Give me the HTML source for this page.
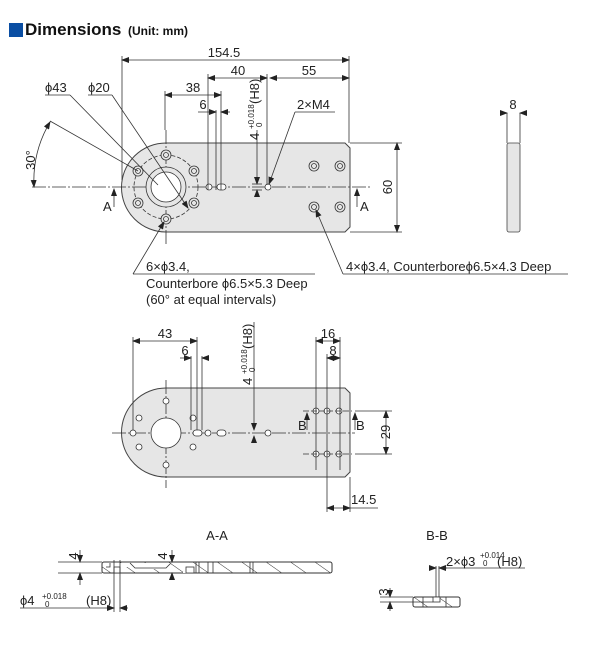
<!DOCTYPE html>
<html><head><meta charset="utf-8"><style>
body{margin:0;background:#fff;width:605px;height:657px;overflow:hidden}
svg{display:block}
text{font-family:"Liberation Sans",sans-serif;fill:#222}
.t{font-size:13px}
.s{font-size:8px}
</style></head><body>
<svg width="605" height="657" viewBox="0 0 605 657" xmlns="http://www.w3.org/2000/svg">
<defs>
<marker id="a" markerWidth="8" markerHeight="6" refX="7" refY="3" orient="auto-start-reverse" markerUnits="userSpaceOnUse"><path d="M0,0L8,3L0,6z" fill="#222"/></marker>
<pattern id="h" width="14" height="14" patternUnits="userSpaceOnUse" patternTransform="rotate(-55)"><line x1="0" y1="0" x2="0" y2="14" stroke="#333" stroke-width="1"/></pattern>
</defs>
<rect x="9" y="23" width="14" height="14" fill="#0a4ea3"/>
<text x="25" y="35" style="font-size:17px;font-weight:bold;fill:#111">Dimensions</text>
<text x="128" y="35" style="font-size:12px;font-weight:bold;fill:#111">(Unit: mm)</text>

<g stroke="#333" stroke-width="0.8" fill="none">
<!-- TOP VIEW plate -->
<path d="M166,143 H345 L350,148 V227 L345,232 H166 A44,44 0 0 1 166,143 Z" fill="#e6e6e6" stroke="#444" stroke-width="1"/>
<line x1="32" y1="187" x2="370" y2="187" stroke-dasharray="14,2,2,2"/>
<line x1="166" y1="130" x2="166" y2="245" stroke-dasharray="14,2,2,2"/>
<circle cx="166" cy="187" r="32" stroke-dasharray="4,2"/>
<circle cx="166" cy="187" r="20" fill="#e6e6e6"/>
<circle cx="166" cy="187" r="15" fill="#fff"/>
<g fill="#e6e6e6">
<circle cx="166" cy="155" r="5"/><circle cx="166" cy="155" r="2.5"/>
<circle cx="194" cy="171" r="5"/><circle cx="194" cy="171" r="2.5"/>
<circle cx="194" cy="203" r="5"/><circle cx="194" cy="203" r="2.5"/>
<circle cx="166" cy="219" r="5"/><circle cx="166" cy="219" r="2.5"/>
<circle cx="138" cy="203" r="5"/><circle cx="138" cy="203" r="2.5"/>
<circle cx="138" cy="171" r="5"/><circle cx="138" cy="171" r="2.5"/>
<circle cx="314" cy="166" r="5"/><circle cx="314" cy="166" r="2.5"/>
<circle cx="340" cy="166" r="5"/><circle cx="340" cy="166" r="2.5"/>
<circle cx="314" cy="207" r="5"/><circle cx="314" cy="207" r="2.5"/>
<circle cx="340" cy="207" r="5"/><circle cx="340" cy="207" r="2.5"/>
</g>
<circle cx="209" cy="187" r="3" fill="#fff"/>
<rect x="217" y="184" width="9" height="6" rx="3" fill="#fff"/>
<circle cx="268" cy="187" r="3" fill="#fff"/>
<!-- dimension lines top -->
<line x1="122" y1="56" x2="122" y2="180"/>
<line x1="349" y1="56" x2="349" y2="143"/>
<line x1="122" y1="60" x2="349" y2="60" marker-start="url(#a)" marker-end="url(#a)"/>
<line x1="208" y1="74" x2="208" y2="190"/>
<line x1="267" y1="74" x2="267" y2="185"/>
<line x1="208" y1="78" x2="267" y2="78" marker-start="url(#a)" marker-end="url(#a)"/>
<line x1="270" y1="78" x2="349" y2="78" marker-start="url(#a)" marker-end="url(#a)"/>
<line x1="165" y1="91" x2="165" y2="130"/>
<line x1="221" y1="91" x2="221" y2="190"/>
<line x1="165" y1="95" x2="221" y2="95" marker-start="url(#a)" marker-end="url(#a)"/>
<line x1="216" y1="110" x2="216" y2="190"/>
<line x1="198" y1="112" x2="216" y2="112" marker-end="url(#a)"/>
<line x1="221" y1="112" x2="230" y2="112" marker-start="url(#a)"/>
<line x1="257" y1="130" x2="257" y2="184" marker-end="url(#a)"/>
<line x1="257" y1="197" x2="257" y2="190" marker-end="url(#a)"/>
<line x1="252" y1="184" x2="262" y2="184"/><line x1="252" y1="190" x2="262" y2="190"/>
<!-- leaders -->
<line x1="45" y1="95" x2="70" y2="95"/>
<line x1="70" y1="95" x2="158" y2="185"/>
<line x1="88" y1="95" x2="112" y2="95"/>
<line x1="112" y1="95" x2="188" y2="208" marker-end="url(#a)"/>
<line x1="295" y1="112" x2="335" y2="112"/>
<line x1="295" y1="112" x2="269" y2="184" marker-end="url(#a)"/>
<path d="M50,122 A116,116 0 0 0 34,187" marker-start="url(#a)" marker-end="url(#a)"/>
<line x1="50" y1="121" x2="138" y2="171"/>
<line x1="133" y1="274" x2="315" y2="274"/>
<line x1="133" y1="274" x2="164" y2="222" marker-end="url(#a)"/>
<line x1="343" y1="274" x2="568" y2="274"/>
<line x1="343" y1="274" x2="316" y2="210" marker-end="url(#a)"/>
<!-- A marks -->
<line x1="114" y1="207" x2="114" y2="189" marker-end="url(#a)"/>
<line x1="357" y1="207" x2="357" y2="189" marker-end="url(#a)"/>
<!-- 60 -->
<line x1="350" y1="143" x2="402" y2="143"/>
<line x1="350" y1="232" x2="402" y2="232"/>
<line x1="397" y1="143" x2="397" y2="232" marker-start="url(#a)" marker-end="url(#a)"/>
<!-- side view -->
<rect x="507" y="143" width="13" height="89" rx="2" fill="#e6e6e6" stroke="#444"/>
<line x1="507" y1="113" x2="507" y2="143"/><line x1="520" y1="113" x2="520" y2="143"/>
<line x1="500" y1="113" x2="507" y2="113" marker-end="url(#a)"/>
<line x1="527" y1="113" x2="520" y2="113" marker-end="url(#a)"/>

<!-- MIDDLE VIEW -->
<path d="M166,388 H345 L350,393 V472 L345,477 H166 A44.5,44.5 0 0 1 166,388 Z" fill="#e6e6e6" stroke="#444" stroke-width="1"/>
<line x1="112" y1="433" x2="355" y2="433" stroke-dasharray="14,2,2,2"/>
<line x1="166" y1="380" x2="166" y2="488" stroke-dasharray="14,2,2,2"/>
<circle cx="166" cy="433" r="15" fill="#fff"/>
<g fill="#fff">
<circle cx="166" cy="401" r="3"/><circle cx="166" cy="465" r="3"/>
<circle cx="139" cy="418" r="3"/><circle cx="139" cy="447" r="3"/>
<circle cx="133" cy="433" r="3"/>
<circle cx="193" cy="418" r="3"/><circle cx="193" cy="447" r="3"/>
<rect x="193" y="430" width="9" height="6" rx="3"/>
<circle cx="208" cy="433" r="3"/>
<rect x="217" y="430" width="9" height="6" rx="3"/>
<circle cx="268" cy="433" r="3"/>
<circle cx="316" cy="411" r="3"/><circle cx="327" cy="411" r="3"/><circle cx="339" cy="411" r="3"/>
<circle cx="316" cy="454" r="3"/><circle cx="327" cy="454" r="3"/><circle cx="339" cy="454" r="3"/>
</g>
<line x1="303" y1="411" x2="352" y2="411" stroke-dasharray="6,2"/>
<line x1="303" y1="454" x2="352" y2="454" stroke-dasharray="6,2"/>
<line x1="133" y1="337" x2="133" y2="430"/>
<line x1="197" y1="337" x2="197" y2="430"/>
<line x1="133" y1="341" x2="197" y2="341" marker-start="url(#a)" marker-end="url(#a)"/>
<line x1="191" y1="356" x2="191" y2="430"/>
<line x1="202" y1="356" x2="202" y2="430"/>
<line x1="180" y1="358" x2="191" y2="358" marker-end="url(#a)"/>
<line x1="209" y1="358" x2="202" y2="358" marker-end="url(#a)"/>
<line x1="254" y1="322" x2="254" y2="430" marker-end="url(#a)"/>
<line x1="254" y1="442" x2="254" y2="436" marker-end="url(#a)"/>
<line x1="316" y1="337" x2="316" y2="470"/>
<line x1="340" y1="337" x2="340" y2="470"/>
<line x1="327" y1="354" x2="327" y2="512"/>
<line x1="316" y1="341" x2="340" y2="341" marker-start="url(#a)" marker-end="url(#a)"/>
<line x1="327" y1="358" x2="340" y2="358" marker-start="url(#a)" marker-end="url(#a)"/>
<line x1="350" y1="477" x2="350" y2="512"/>
<line x1="327" y1="508" x2="350" y2="508" marker-start="url(#a)" marker-end="url(#a)"/>
<line x1="350" y1="508" x2="378" y2="508"/>
<line x1="355" y1="411" x2="392" y2="411"/>
<line x1="355" y1="454" x2="392" y2="454"/>
<line x1="386" y1="411" x2="386" y2="454" marker-start="url(#a)" marker-end="url(#a)"/>
<line x1="307" y1="430" x2="307" y2="413" marker-end="url(#a)"/>
<line x1="355" y1="430" x2="355" y2="413" marker-end="url(#a)"/>

<!-- SECTION A-A -->
<rect x="102" y="562" width="230" height="11" rx="2" fill="url(#h)" stroke="#333" stroke-width="1"/>
<path d="M106,563 H130 L135,568 H166 L171,563 H183" fill="#fff" stroke="none"/>
<rect x="135" y="563" width="36" height="6" fill="#fff" stroke="none"/>
<rect x="110" y="563" width="20" height="4" fill="#fff" stroke="none"/>
<path d="M110,563 L110,567 L106,567"/>
<path d="M130,563 L135,568 H166 L171,563"/>
<rect x="114" y="567" width="6" height="6" fill="#fff"/>
<rect x="183" y="563" width="8" height="10" fill="#fff" stroke="none"/>
<rect x="186" y="567" width="8" height="6" fill="#fff"/>
<line x1="196" y1="562" x2="196" y2="573"/><line x1="199" y1="562" x2="199" y2="573"/>
<line x1="208" y1="562" x2="208" y2="573"/><line x1="213" y1="562" x2="213" y2="573"/>
<line x1="250" y1="562" x2="250" y2="573"/><line x1="253" y1="562" x2="253" y2="573"/>
<line x1="58" y1="562" x2="102" y2="562"/><line x1="58" y1="573" x2="102" y2="573"/>
<line x1="80" y1="550" x2="80" y2="562" marker-end="url(#a)"/>
<line x1="80" y1="585" x2="80" y2="573" marker-end="url(#a)"/>
<line x1="172" y1="550" x2="172" y2="562" marker-end="url(#a)"/>
<line x1="172" y1="580" x2="172" y2="573" marker-end="url(#a)"/>
<line x1="114" y1="560" x2="114" y2="612"/><line x1="120" y1="560" x2="120" y2="612"/>
<line x1="20" y1="608" x2="114" y2="608" marker-end="url(#a)"/>
<line x1="128" y1="608" x2="120" y2="608" marker-end="url(#a)"/>
<!-- SECTION B-B -->
<rect x="413" y="597" width="47" height="10" rx="2" fill="url(#h)" stroke="#333" stroke-width="1"/>
<rect x="433" y="597" width="7" height="5" fill="#fff"/>
<line x1="423" y1="597" x2="423" y2="607"/><line x1="446" y1="597" x2="446" y2="607"/>
<line x1="436" y1="566" x2="436" y2="597"/><line x1="439" y1="566" x2="439" y2="597"/>
<line x1="430" y1="568" x2="436" y2="568" marker-end="url(#a)"/>
<line x1="447" y1="568" x2="439" y2="568" marker-end="url(#a)"/>
<line x1="439" y1="568" x2="525" y2="568"/>
<line x1="380" y1="597" x2="413" y2="597"/><line x1="380" y1="602" x2="433" y2="602"/>
<line x1="390" y1="588" x2="390" y2="597" marker-end="url(#a)"/>
<line x1="390" y1="611" x2="390" y2="602" marker-end="url(#a)"/>
</g>

<g class="t">
<text x="224" y="57" text-anchor="middle">154.5</text>
<text x="238" y="75" text-anchor="middle">40</text>
<text x="309" y="75" text-anchor="middle">55</text>
<text x="193" y="92" text-anchor="middle">38</text>
<text x="203" y="109" text-anchor="middle">6</text>
<text x="45" y="92">ϕ43</text>
<text x="88" y="92">ϕ20</text>
<text x="297" y="109">2×M4</text>
<text x="103" y="211">A</text>
<text x="360" y="211">A</text>
<text x="513" y="109" text-anchor="middle">8</text>
<text x="146" y="271">6×ϕ3.4,</text>
<text x="146" y="288">Counterbore ϕ6.5×5.3 Deep</text>
<text x="146" y="304">(60° at equal intervals)</text>
<text x="346" y="271">4×ϕ3.4, Counterboreϕ6.5×4.3 Deep</text>
<text x="165" y="338" text-anchor="middle">43</text>
<text x="185" y="355" text-anchor="middle">6</text>
<text x="328" y="338" text-anchor="middle">16</text>
<text x="333" y="355" text-anchor="middle">8</text>
<text x="298" y="430">B</text>
<text x="356" y="430">B</text>
<text x="351" y="504">14.5</text>
<text x="217" y="540" text-anchor="middle">A-A</text>
<text x="437" y="540" text-anchor="middle">B-B</text>
<text x="20" y="605">ϕ4</text>
<text x="86" y="605">(H8)</text>
<text x="446" y="566">2×ϕ3</text>
<text x="497" y="566">(H8)</text>
</g>
<g class="s">
<text x="42" y="599">+0.018</text><text x="45" y="607">0</text>
<text x="480" y="558">+0.014</text><text x="483" y="566">0</text>
</g>
<text class="t" transform="translate(35,160) rotate(-90)" text-anchor="middle">30°</text>
<text class="t" transform="translate(392,187) rotate(-90)" text-anchor="middle">60</text>
<text class="t" transform="translate(390,432) rotate(-90)" text-anchor="middle">29</text>
<text class="t" transform="translate(78,556) rotate(-90)" text-anchor="middle">4</text>
<text class="t" transform="translate(167,556) rotate(-90)" text-anchor="middle">4</text>
<text class="t" transform="translate(388,592) rotate(-90)" text-anchor="middle">3</text>
<g transform="translate(259,140) rotate(-90)">
<text class="t" x="0" y="0">4</text><text class="s" x="11" y="-5">+0.018</text><text class="s" x="13" y="3">0</text><text class="t" x="36" y="0">(H8)</text>
</g>
<g transform="translate(252,385) rotate(-90)">
<text class="t" x="0" y="0">4</text><text class="s" x="11" y="-5">+0.018</text><text class="s" x="13" y="3">0</text><text class="t" x="36" y="0">(H8)</text>
</g>
</svg>
</body></html>
